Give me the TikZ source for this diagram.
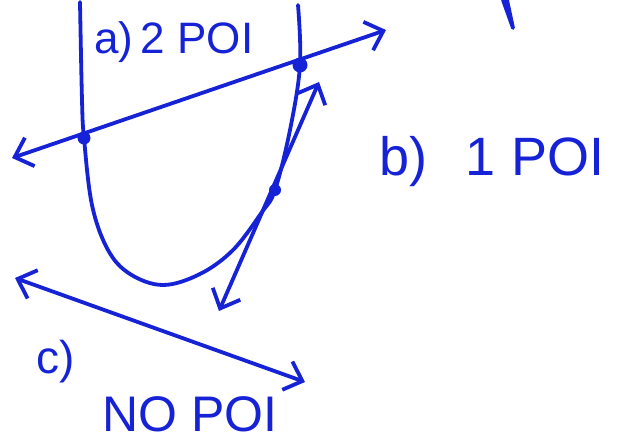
\documentclass[tikz,border=0pt]{standalone}
\usepackage{fontspec}
\setmainfont{Liberation Sans}
\usetikzlibrary{arrows.meta}
\definecolor{ink}{RGB}{22,34,214}
\begin{document}
\begin{tikzpicture}[x=1pt,y=-1pt,
  pen/.style={draw=ink,line width=3.8pt,line cap=round,line join=round},
  arr/.style={pen,{Straight Barb[length=16pt,width=30pt,line width=3.8pt]}-{Straight Barb[length=16pt,width=30pt,line width=3.8pt]}},
  dotpt/.style={circle,fill=ink,inner sep=0pt,minimum size=#1},
  lab/.style={text=ink,inner sep=0pt}]
\useasboundingbox (0,0) rectangle (624,441);
% parabola
\draw[pen] plot[smooth,tension=0.6] coordinates {(80,2) (82,100) (84,138) (92,205) (108,250) (130,274) (163,285) (200,274) (233,250) (262,212) (275,190) (290,130) (300,65) (298,5)};
% points of intersection
\node[dotpt=13pt] (p1) at (84,138) {};
\node[dotpt=15pt] (p2) at (300,65) {};
\node[dotpt=12pt] (p3) at (275,190) {};
% line a (secant)
\coordinate (aL) at (12,158);
\coordinate (aR) at (386,30);
\draw[arr] (aL) -- (aR);
% line b (tangent)
\coordinate (bU) at (319,82);
\coordinate (bD) at (219,311);
\draw[arr] (bD) -- (bU);
% line c (no intersection)
\coordinate (cL) at (15,278);
\coordinate (cR) at (305,382);
\draw[arr] (cL) -- (cR);
% labels
\node[lab,font=\fontsize{44}{44}\selectfont] (ta) at (174,42) {a)\,2 POI};
\node[lab,font=\fontsize{54}{54}\selectfont] (tb) at (492,162) {b)\hspace{0.7em}1\hspace{0.3em}POI};
\node[lab,font=\fontsize{46}{46}\selectfont] (tc) at (56,362) {c)};
\node[lab,font=\fontsize{50}{50}\selectfont] (tn) at (190,414) {NO POI};
% partial stroke at top edge
\draw[pen] (503,0) -- (513,28) -- (507,0);
\end{tikzpicture}
\end{document}
